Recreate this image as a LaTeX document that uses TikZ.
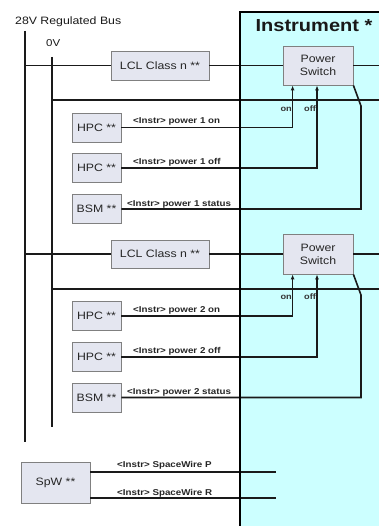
\documentclass[tikz,border=0pt]{standalone}
\usepackage{fontspec}
\setmainfont{Liberation Sans}
\usepackage{graphicx}
\usetikzlibrary{arrows.meta,calc}
\definecolor{instfill}{HTML}{CCFFFF}
\definecolor{boxfill}{HTML}{E4E6F0}
\definecolor{boxdraw}{HTML}{808080}
\definecolor{wire}{HTML}{1A1A1A}
\newcommand{\hx}[1]{\scalebox{1.15}[1]{#1}}
\tikzset{
  unitbox/.style={draw=boxdraw, fill=boxfill, line width=0.8pt, inner sep=0pt,
    text=black!85, font=\fontsize{10.7}{12}\selectfont},
  wireline/.style={draw=wire, line width=1.6pt},
  arr/.style={wireline, -{Latex[length=5pt,width=4pt]}},
  siglabel/.style={inner sep=0pt, anchor=west, text=black!85, font=\fontsize{8.5}{10}\selectfont\bfseries},
  onoff/.style={inner sep=0pt, text=black!80, font=\fontsize{8}{10}\selectfont\bfseries},
  plainlabel/.style={inner sep=0pt, anchor=west, text=black!90, font=\fontsize{10.7}{12}\selectfont}
}
\begin{document}
\begin{tikzpicture}[x=1pt,y=-1pt]
\useasboundingbox (0,0) rectangle (379,526);
% instrument area
\fill[instfill] (240,12) rectangle (390,530);
\node[inner sep=0pt, font=\fontsize{17.4}{20}\selectfont\bfseries, text=black!90] (insttitle) at (314,26) {\hx{Instrument *}};
% labels
\node[plainlabel] (buslabel) at (15,22) {\hx{28V Regulated Bus}};
\node[plainlabel, font=\fontsize{10}{12}\selectfont] (ovlabel) at (46,43) {\hx{0V}};
% coordinates
\coordinate (busTop) at (25,31);
\coordinate (busBot) at (25,442);
\coordinate (ovTop) at (52,57);
\coordinate (ovBot) at (52,427);
\coordinate (edgeA) at (382,65.5);
\coordinate (edgeB) at (382,100);
\coordinate (edgeC) at (382,254);
\coordinate (edgeD) at (382,289);
\coordinate (busA) at (25,65.5);
\coordinate (ovA) at (52,100);
\coordinate (busC) at (25,254);
\coordinate (ovC) at (52,289);
\coordinate (st1) at (361,106);
\coordinate (st2) at (361,295);
\coordinate (spPend) at (276,472);
\coordinate (spRend) at (276,498);
% boxes
\node[unitbox, minimum width=98pt, minimum height=29pt] (lcl1) at (160,65.5) {\hx{LCL Class n **}};
\node[unitbox, minimum width=70pt, minimum height=39pt, align=center] (ps1) at (318,65.5) {\hx{Power}\\[1pt]\hx{Switch}};
\node[unitbox, minimum width=49pt, minimum height=29pt] (hpc1a) at (96.5,127.5) {\hx{HPC **}};
\node[unitbox, minimum width=49pt, minimum height=29pt] (hpc1b) at (96.5,168) {\hx{HPC **}};
\node[unitbox, minimum width=49pt, minimum height=29pt] (bsm1) at (96.5,209) {\hx{BSM **}};
\node[unitbox, minimum width=98pt, minimum height=28pt] (lcl2) at (160,254) {\hx{LCL Class n **}};
\node[unitbox, minimum width=70pt, minimum height=40pt, align=center] (ps2) at (318,254) {\hx{Power}\\[1pt]\hx{Switch}};
\node[unitbox, minimum width=49pt, minimum height=29pt] (hpc2a) at (96.5,316) {\hx{HPC **}};
\node[unitbox, minimum width=49pt, minimum height=29pt] (hpc2b) at (96.5,357) {\hx{HPC **}};
\node[unitbox, minimum width=49pt, minimum height=29pt] (bsm2) at (96.5,397.5) {\hx{BSM **}};
\node[unitbox, minimum width=69pt, minimum height=41pt] (spw) at (55.5,482.5) {\hx{SpW **}};
% bus lines
\draw[wireline] (busTop) -- (busBot);
\draw[wireline] (ovTop) -- (ovBot);
% group 1
\draw[wireline] (busA) -- (lcl1.west);
\draw[wireline] (lcl1.east) -- (ps1.west);
\draw[wireline] (ps1.east) -- (edgeA);
\draw[wireline] (ovA) -- (edgeB);
\draw[arr] (hpc1a.east) -| ([xshift=10pt]ps1.south west);
\draw[arr] (hpc1b.east) -| ([xshift=-1pt]ps1.south);
\draw[wireline] (bsm1.east) -| (st1) -- (ps1.south east);
% group 2
\draw[wireline] (busC) -- (lcl2.west);
\draw[wireline] (lcl2.east) -- (ps2.west);
\draw[wireline] (ps2.east) -- (edgeC);
\draw[wireline] (ovC) -- (edgeD);
\draw[arr] (hpc2a.east) -| ([xshift=10pt]ps2.south west);
\draw[arr] (hpc2b.east) -| ([xshift=-1pt]ps2.south);
\draw[wireline] (bsm2.east) -| (st2) -- (ps2.south east);
% spacewire
\draw[wireline] (spw.east |- spPend) -- (spPend);
\draw[wireline] (spw.east |- spRend) -- (spRend);
% instrument border
\draw[line width=2.8pt, black] (240,530) -- (240,12) -- (390,12);
% signal labels
\node[siglabel] (l1on) at (133,121) {\hx{<Instr> power 1 on}};
\node[siglabel] (l1off) at (133,162) {\hx{<Instr> power 1 off}};
\node[siglabel] (l1st) at (127,204) {\hx{<Instr> power 1 status}};
\node[siglabel] (l2on) at (133,310) {\hx{<Instr> power 2 on}};
\node[siglabel] (l2off) at (133,351) {\hx{<Instr> power 2 off}};
\node[siglabel] (l2st) at (127,392) {\hx{<Instr> power 2 status}};
\node[siglabel] (lspP) at (117,465) {\hx{<Instr> SpaceWire P}};
\node[siglabel] (lspR) at (117,493) {\hx{<Instr> SpaceWire R}};
\node[onoff, anchor=east] (on1) at (292,109) {\hx{on}};
\node[onoff, anchor=west] (off1) at (304,109) {\hx{off}};
\node[onoff, anchor=east] (on2) at (292,297) {\hx{on}};
\node[onoff, anchor=west] (off2) at (304,297) {\hx{off}};
\end{tikzpicture}
\end{document}
